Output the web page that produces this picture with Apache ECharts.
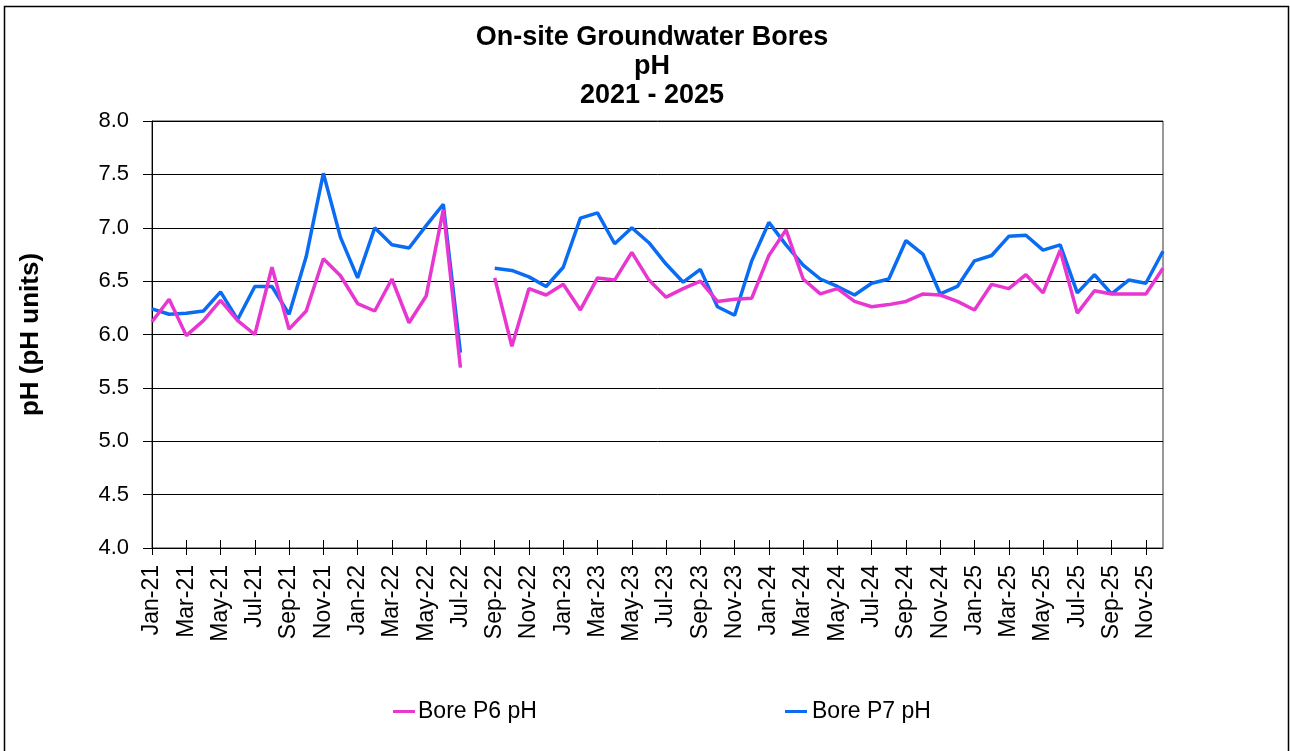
<!DOCTYPE html>
<html>
<head>
<meta charset="utf-8">
<script src="https://cdn.jsdelivr.net/npm/echarts@6/dist/echarts.min.js"></script>
<style>
html,body{margin:0;padding:0;background:#fff;}
#chart{width:1290px;height:751px;}
</style>
</head>
<body>
<div id="chart"></div>
<script>
var categories = [
 'Jan-21','Feb-21','Mar-21','Apr-21','May-21','Jun-21','Jul-21','Aug-21','Sep-21','Oct-21','Nov-21','Dec-21',
 'Jan-22','Feb-22','Mar-22','Apr-22','May-22','Jun-22','Jul-22','Aug-22','Sep-22','Oct-22','Nov-22','Dec-22',
 'Jan-23','Feb-23','Mar-23','Apr-23','May-23','Jun-23','Jul-23','Aug-23','Sep-23','Oct-23','Nov-23','Dec-23',
 'Jan-24','Feb-24','Mar-24','Apr-24','May-24','Jun-24','Jul-24','Aug-24','Sep-24','Oct-24','Nov-24','Dec-24',
 'Jan-25','Feb-25','Mar-25','Apr-25','May-25','Jun-25','Jul-25','Aug-25','Sep-25','Oct-25','Nov-25','Dec-25'
];
var boreP6 = [
 6.12, 6.33, 5.99, 6.13, 6.32, 6.13, 6.00, 6.63, 6.05, 6.22, 6.71, 6.55,
 6.29, 6.22, 6.52, 6.11, 6.36, 7.17, 5.69, null, 6.53, 5.89, 6.43, 6.37,
 6.47, 6.23, 6.53, 6.51, 6.77, 6.51, 6.35, 6.43, 6.50, 6.31, 6.33, 6.34,
 6.74, 6.98, 6.52, 6.38, 6.43, 6.31, 6.26, 6.28, 6.31, 6.38, 6.37, 6.31,
 6.23, 6.47, 6.43, 6.56, 6.39, 6.79, 6.20, 6.41, 6.38, 6.38, 6.38, 6.62
];
var boreP7 = [
 6.24, 6.19, 6.20, 6.22, 6.40, 6.14, 6.45, 6.45, 6.19, 6.73, 7.51, 6.91,
 6.53, 7.00, 6.84, 6.81, 7.02, 7.22, 5.83, null, 6.62, 6.60, 6.54, 6.45,
 6.63, 7.09, 7.14, 6.85, 7.00, 6.86, 6.66, 6.49, 6.61, 6.26, 6.18, 6.69,
 7.05, 6.84, 6.65, 6.52, 6.45, 6.37, 6.48, 6.52, 6.88, 6.75, 6.38, 6.45,
 6.69, 6.74, 6.92, 6.93, 6.79, 6.84, 6.39, 6.56, 6.38, 6.51, 6.48, 6.78
];
var seriesNames = ['Bore P6 pH', 'Bore P7 pH'];
var titleText = 'On-site Groundwater Bores\npH\n2021 - 2025';
var yAxisName = 'pH (pH units)';

var FONT = '"Liberation Sans", Arial, sans-serif';
var PINK = '#E836D0';
var BLUE = '#0A6CF2';

var chart = echarts.init(document.getElementById('chart'), null, {renderer: 'canvas'});
chart.setOption({
  backgroundColor: '#fff',
  animation: false,
  title: {
    text: titleText,
    left: 647,
    textAlign: 'center',
    top: 18,
    textStyle: {fontFamily: FONT, fontSize: 27, fontWeight: 'bold', color: '#000', lineHeight: 29}
  },
  graphic: [{
    type: 'rect',
    shape: {x: 4.5, y: 6.5, width: 1284, height: 770},
    style: {fill: 'none', stroke: '#000', lineWidth: 1.5},
    silent: true
  }],
  legend: [
    {data: [seriesNames[0]], left: 388, top: 695, icon: 'rect', itemWidth: 22, itemHeight: 3, itemGap: 0,
     textStyle: {fontFamily: FONT, fontSize: 23, color: '#000', padding: [0, 0, 0, -2]}},
    {data: [seriesNames[1]], left: 780, top: 695, icon: 'rect', itemWidth: 22, itemHeight: 3, itemGap: 0,
     textStyle: {fontFamily: FONT, fontSize: 23, color: '#000', padding: [0, 0, 0, 0]}}
  ],
  grid: {left: 152, right: 127, top: 121, bottom: 203, show: true, borderColor: '#333', borderWidth: 1, backgroundColor: 'transparent'},
  xAxis: [{
    type: 'category',
    data: categories,
    boundaryGap: false,
    axisLine: {lineStyle: {color: '#000', width: 1}},
    axisTick: {show: true, interval: 1, inside: false, length: 7, lineStyle: {color: '#000'}},
    axisLabel: {interval: 1, rotate: 90, margin: 17, fontFamily: FONT, fontSize: 23, color: '#000'},
    splitLine: {show: false}
  }, {
    type: 'category',
    data: categories,
    boundaryGap: false,
    position: 'bottom',
    offset: 0,
    axisLine: {show: false},
    axisTick: {show: true, interval: 1, inside: true, length: 8, lineStyle: {color: '#000'}},
    axisLabel: {show: false},
    splitLine: {show: false}
  }],
  yAxis: {
    type: 'value',
    min: 4, max: 8, interval: 0.5,
    name: yAxisName,
    nameLocation: 'middle',
    nameRotate: 90,
    nameGap: 108,
    nameTextStyle: {fontFamily: FONT, fontSize: 26, fontWeight: 'bold', color: '#000'},
    axisLine: {show: true, lineStyle: {color: '#000', width: 1}},
    axisTick: {show: true, inside: false, length: 9, lineStyle: {color: '#000'}},
    axisLabel: {margin: 23, fontFamily: FONT, fontSize: 22, color: '#000', formatter: function (v) { return v.toFixed(1); }},
    splitLine: {show: true, lineStyle: {color: '#000', width: 1}}
  },
  series: [{
    name: seriesNames[0],
    type: 'line',
    data: boreP6,
    symbol: 'none',
    connectNulls: false,
    lineStyle: {color: PINK, width: 3.5},
    itemStyle: {color: PINK},
    z: 3
  }, {
    name: seriesNames[1],
    type: 'line',
    data: boreP7,
    symbol: 'none',
    connectNulls: false,
    lineStyle: {color: BLUE, width: 3.5},
    itemStyle: {color: BLUE},
    z: 2
  }]
});
</script>
</body>
</html>
